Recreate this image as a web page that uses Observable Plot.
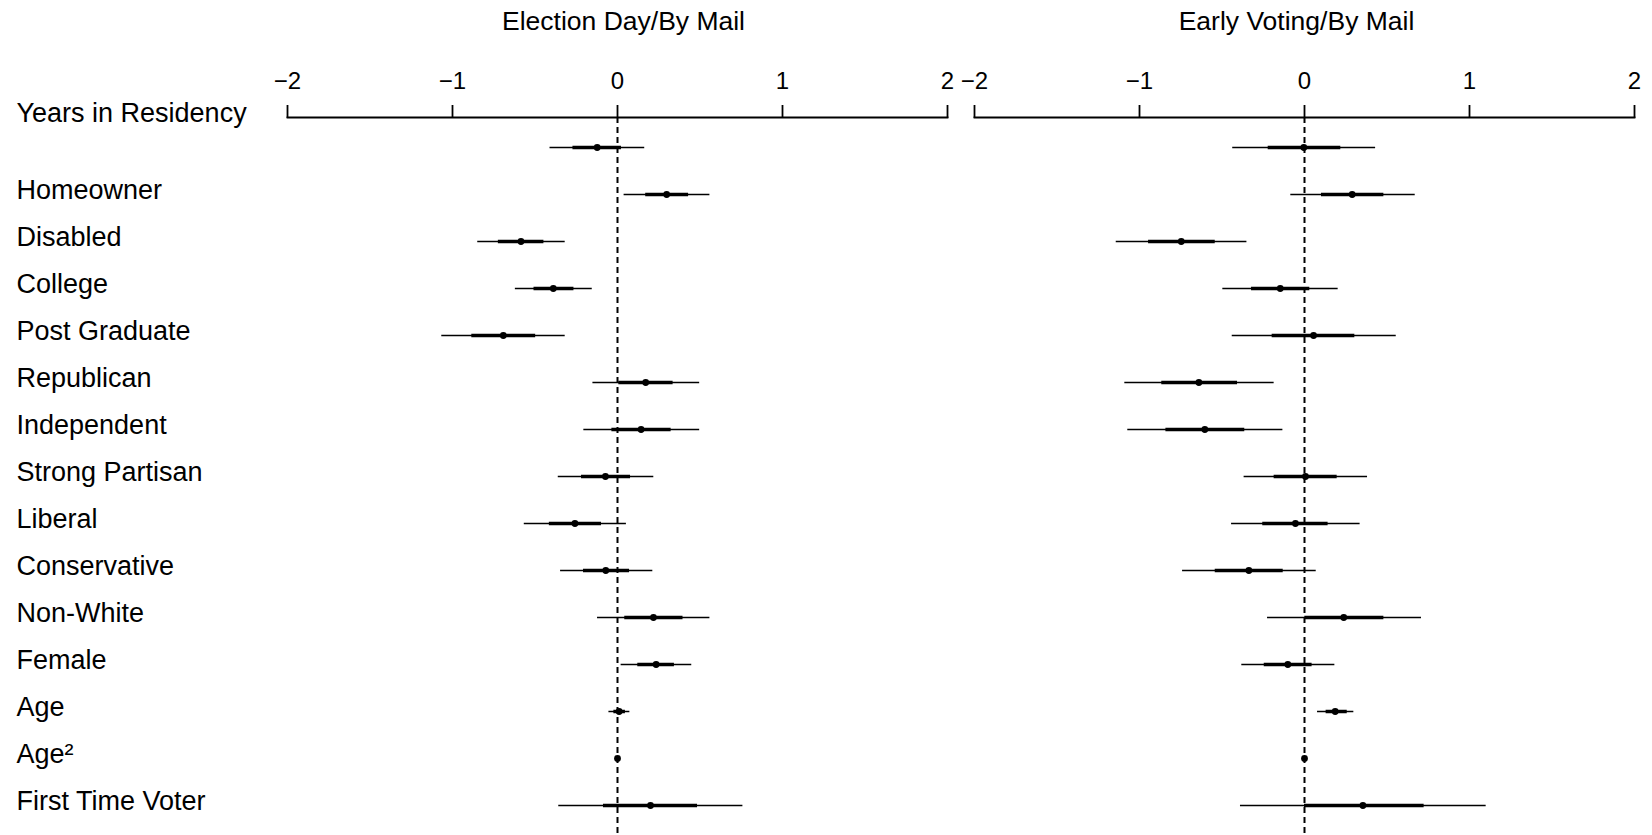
<!DOCTYPE html>
<html>
<head>
<meta charset="utf-8">
<script src="https://cdn.jsdelivr.net/npm/d3@7"></script>
<script src="https://cdn.jsdelivr.net/npm/@observablehq/plot@0.6"></script>
<style>
  html, body { margin: 0; padding: 0; background: #fff; }
  #chart svg { display: block; }
</style>
</head>
<body>
<div id="chart"></div>
<script>
// ---- data ----
const panels = ["Election Day/By Mail", "Early Voting/By Mail"];
const categories = ["Years in Residency", "Homeowner", "Disabled", "College", "Post Graduate",
  "Republican", "Independent", "Strong Partisan", "Liberal", "Conservative",
  "Non-White", "Female", "Age", "Age²", "First Time Voter"];
const xTicks = [-2, -1, 0, 1, 2];

// Election Day / By Mail
const edEst  = [-0.123, 0.298, -0.585, -0.389, -0.692, 0.171, 0.143, -0.073, -0.258, -0.071, 0.218, 0.234, 0.010, 0.000, 0.200];
const edLo95 = [-0.409, 0.040, -0.847, -0.619, -1.065, -0.149, -0.204, -0.359, -0.565, -0.345, -0.121, 0.022, -0.052, -0.006, -0.356];
const edHi95 = [0.165, 0.560, -0.317, -0.153, -0.317, 0.498, 0.498, 0.220, 0.054, 0.214, 0.560, 0.450, 0.075, 0.006, 0.760];
const edLo50 = [-0.270, 0.171, -0.722, -0.506, -0.883, 0.008, -0.034, -0.218, -0.413, -0.206, 0.044, 0.123, -0.022, -0.003, -0.085];
const edHi50 = [0.024, 0.431, -0.446, -0.264, -0.496, 0.337, 0.325, 0.079, -0.097, 0.073, 0.397, 0.345, 0.048, 0.003, 0.485];

// Early Voting / By Mail
const evEst  = [-0.004, 0.289, -0.747, -0.147, 0.055, -0.640, -0.604, 0.006, -0.055, -0.337, 0.238, -0.101, 0.186, 0.000, 0.354];
const evLo95 = [-0.435, -0.083, -1.141, -0.495, -0.438, -1.089, -1.071, -0.366, -0.442, -0.739, -0.224, -0.380, 0.079, -0.006, -0.388];
const evHi95 = [0.431, 0.671, -0.349, 0.204, 0.556, -0.184, -0.131, 0.382, 0.337, 0.071, 0.709, 0.184, 0.299, 0.006, 1.101];
const evLo50 = [-0.220, 0.103, -0.945, -0.321, -0.196, -0.865, -0.840, -0.184, -0.253, -0.541, 0.002, -0.244, 0.131, -0.003, 0.000];
const evHi50 = [0.220, 0.481, -0.541, 0.032, 0.305, -0.406, -0.362, 0.198, 0.143, -0.129, 0.481, 0.046, 0.259, 0.003, 0.725];

// ---- build table ----
const rows = [];
categories.forEach((c, i) => {
  rows.push({panel: panels[0], cat: c, est: edEst[i], lo95: edLo95[i], hi95: edHi95[i], lo50: edLo50[i], hi50: edHi50[i]});
  rows.push({panel: panels[1], cat: c, est: evEst[i], lo95: evLo95[i], hi95: evHi95[i], lo50: evLo50[i], hi50: evHi50[i]});
});

const font = "'Liberation Sans', Arial, Helvetica, sans-serif";

const chart = Plot.plot({
  width: 1652,
  height: 835,
  marginLeft: 287,
  marginRight: 18,
  marginTop: 117,
  marginBottom: 0,
  style: {fontFamily: font, background: "#fff", color: "#000"},
  fx: {domain: panels, paddingInner: 0.04, paddingOuter: 0, axis: null},
  x: {domain: [-2, 2], axis: null},
  y: {type: "point", domain: categories, padding: 0.638, axis: null},
  marks: [
    Plot.frame({anchor: "top", stroke: "#000", strokeWidth: 1.8}),
    Plot.axisX({anchor: "top", ticks: xTicks, tickSize: 13, tickPadding: 16, fontSize: 24, strokeWidth: 1.8, tickFormat: d3.format("")}),
    Plot.ruleX([0], {stroke: "#000", strokeWidth: 2, strokeDasharray: "6,4"}),
    Plot.ruleY(rows, {fx: "panel", y: "cat", x1: "lo95", x2: "hi95", stroke: "#000", strokeWidth: 1.5}),
    Plot.ruleY(rows, {fx: "panel", y: "cat", x1: "lo50", x2: "hi50", stroke: "#000", strokeWidth: 3.5}),
    Plot.dot(rows, {fx: "panel", y: "cat", x: "est", r: 3.4, fill: "#000", stroke: null}),
    // panel titles
    Plot.text([panels[0]], {fx: d => d, text: d => d, frameAnchor: "top", dy: -106, dx: 6, fontSize: 26.5, fill: "#000"}),
    Plot.text([panels[1]], {fx: d => d, text: d => d, frameAnchor: "top", dy: -106, dx: -8, fontSize: 26.5, fill: "#000"}),
    // row labels
    Plot.text(categories.slice(0, 1), {fx: () => panels[0], y: d => d, text: d => d, frameAnchor: "left", textAnchor: "start", dx: -271, dy: -34, fontSize: 27, fill: "#000"}),
    Plot.text(categories.slice(1), {fx: () => panels[0], y: d => d, text: d => d, frameAnchor: "left", textAnchor: "start", dx: -271, dy: -4, fontSize: 27, fill: "#000"})
  ]
});
document.getElementById("chart").appendChild(chart);
</script>
</body>
</html>
